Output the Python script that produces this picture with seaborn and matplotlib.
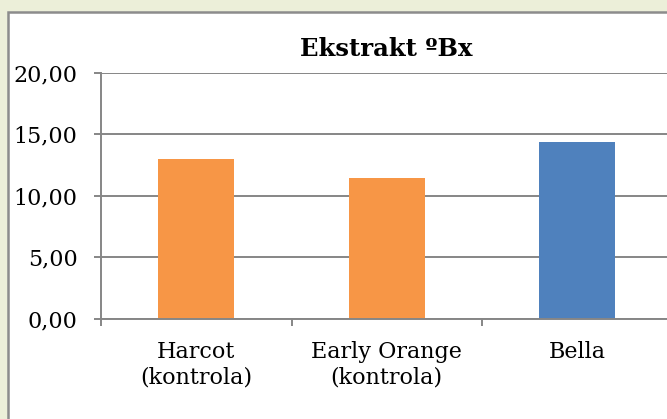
import matplotlib
matplotlib.use('Agg')
import matplotlib.pyplot as plt
import seaborn as sns
import pandas as pd
from matplotlib.patches import Rectangle

categories = ['Harcot\n(kontrola)', 'Early Orange\n(kontrola)', 'Bella']
values = [12.98, 11.46, 14.39]
bar_colors = ['#F79646', '#F79646', '#4F81BD']
y_ticks = [0, 5, 10, 15, 20]
title = 'Ekstrakt ºBx'

sns.set_theme(style='white')
plt.rcParams['font.family'] = ['DejaVu Serif']
plt.rcParams['text.color'] = 'black'

grey = '#868686'
fig = plt.figure(figsize=(6.67, 4.19), dpi=100)
fig.patch.set_facecolor('#ECEFD9')
# chart area frame (cut off at right and bottom like the reference)
fig.patches.append(Rectangle((8 / 667, -0.1), 1.1, (419 - 12) / 419 + 0.1,
                             transform=fig.transFigure, facecolor='white',
                             edgecolor='#8C8C8C', linewidth=1.8, zorder=-1))
ax = fig.add_axes([101 / 667, 100.5 / 419, 571.5 / 667, 245.8 / 419])
ax.set_facecolor('white')
ax.set_zorder(1)

df = pd.DataFrame({'odmiana': categories, 'ekstrakt': values})
sns.barplot(data=df, x='odmiana', y='ekstrakt', hue='odmiana', palette=bar_colors,
            width=0.4, saturation=1, legend=False, linewidth=0, ax=ax)

ax.set_xlim(-0.5, 2.5)
ax.set_ylim(0, 20)
ax.set_yticks(y_ticks)
ax.set_yticklabels([f'{v:.2f}'.replace('.', ',') for v in y_ticks])
ax.set_xticks(range(len(categories)))
ax.set_xticklabels(categories)
ax.set_xticks([-0.5, 0.5, 1.5, 2.5], minor=True)
ax.set_xlabel('')
ax.set_ylabel('')

ax.yaxis.grid(True, color=grey, linewidth=1.4)
ax.set_axisbelow(True)
for s in ['top', 'right']:
    ax.spines[s].set_visible(False)
for s in ['left', 'bottom']:
    ax.spines[s].set_color(grey)
    ax.spines[s].set_linewidth(1.4)

ax.tick_params(axis='y', left=True, length=5, width=1.4, color=grey, pad=12,
               labelsize=16, labelcolor='black')
ax.tick_params(axis='x', which='major', bottom=True, length=0, pad=16,
               labelsize=16, labelcolor='black')
ax.tick_params(axis='x', which='minor', bottom=True, length=5, width=1.4, color=grey)

ax.set_title(title, fontweight='bold', fontsize=17.5, pad=12, color='black')

plt.savefig('out.png', dpi=100, facecolor=fig.get_facecolor())
plt.close()
